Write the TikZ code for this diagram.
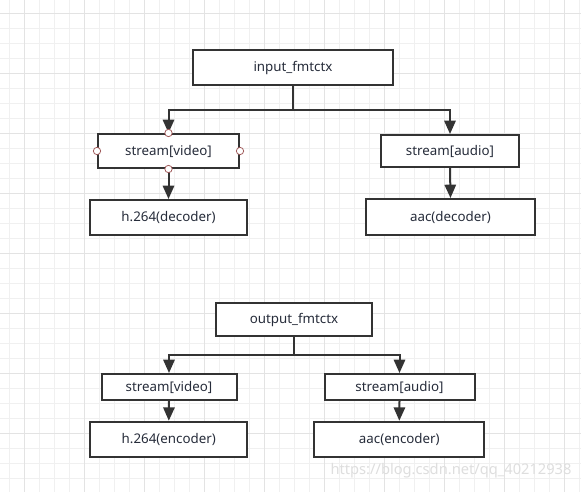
\documentclass[tikz,border=0pt]{standalone}
\usepackage{fontspec}
\setmainfont{Noto Sans}
\usetikzlibrary{arrows.meta}

\definecolor{boxline}{HTML}{333333}
\definecolor{boxtext}{HTML}{262C3A}
\definecolor{gridminor}{HTML}{F0F0F0}
\definecolor{gridmajor}{HTML}{E3E3E3}
\definecolor{portred}{HTML}{A05A5A}

\begin{document}
\begin{tikzpicture}[x=0.75pt, y=-0.75pt,
    box/.style={draw=boxline, line width=1.5pt, rectangle, fill=white, inner sep=0pt,
      font=\fontsize{10}{12}\selectfont, text=boxtext},
    conn/.style={draw=boxline, line width=1.5pt, -{Triangle[length=10pt, width=8.5pt]}},
    port/.style={draw=portred, fill=white, circle, inner sep=0pt, minimum size=5.5pt, line width=0.6pt}]

    % Background grid
    \useasboundingbox (0,0) rectangle (581,492);
    \fill[white] (0,0) rectangle (581,492);
    \foreach \gx in {9.3,24.3,...,581} \draw[gridminor, line width=0.75pt] (\gx,0) -- (\gx,492);
    \foreach \gy in {13.3,28.3,...,492} \draw[gridminor, line width=0.75pt] (0,\gy) -- (581,\gy);
    \foreach \gx in {24.3,84.3,...,581} \draw[gridmajor, line width=0.75pt] (\gx,0) -- (\gx,492);
    \foreach \gy in {13.3,73.3,...,492} \draw[gridmajor, line width=0.75pt] (0,\gy) -- (581,\gy);

    % Nodes (input)
    \node (inctx) at (293,67.5) [box, minimum width=150pt, minimum height=26.25pt] {input\_fmtctx};
    \node (invid) at (168.5,151) [box, minimum width=105.75pt, minimum height=25.5pt] {stream[video]};
    \node (indec) at (168.5,217.5) [box, minimum width=117.75pt, minimum height=26.25pt] {h.264(decoder)};
    \node (inaud) at (450,151) [box, minimum width=103.5pt, minimum height=24pt] {stream[audio]};
    \node (inaac) at (450.5,217) [box, minimum width=126.75pt, minimum height=27pt] {aac(decoder)};

    % Nodes (output)
    \node (outctx) at (294,319.5) [box, minimum width=117pt, minimum height=24.75pt] {output\_fmtctx};
    \node (outvid) at (169,387) [box, minimum width=101.25pt, minimum height=19.5pt] {stream[video]};
    \node (outenc) at (168.8,439.2) [box, minimum width=117.75pt, minimum height=26.25pt] {h.264(encoder)};
    \node (outaud) at (399.5,387) [box, minimum width=112.5pt, minimum height=19.5pt] {stream[audio]};
    \node (outaac) at (399.3,439.2) [box, minimum width=127.5pt, minimum height=26.25pt] {aac(encoder)};

    % Arrows
    \draw[conn] (inctx.south) -- ++(0,24) -| (invid.north);
    \draw[conn] (inctx.south) -- ++(0,24) -| (inaud.north);
    \draw[conn] (invid.south) -- (indec.north);
    \draw[conn] (inaud.south) -- (inaac.north);
    \draw[conn] (outctx.south) -- ++(0,18) -| (outvid.north);
    \draw[conn] (outctx.south) -- ++(0,18) -| (outaud.north);
    \draw[conn] (outvid.south) -- (outenc.north);
    \draw[conn] (outaud.south) -- (outaac.north);

    % Ports on the selected box
    \foreach \a in {north,south,east,west} \node (port-\a) at (invid.\a) [port] {};

    % Watermark
    \node (mark) at (451,471) [text=black!13, font=\fontsize{11}{13}\selectfont] {https://blog.csdn.net/qq\_40212938};
\end{tikzpicture}
\end{document}
